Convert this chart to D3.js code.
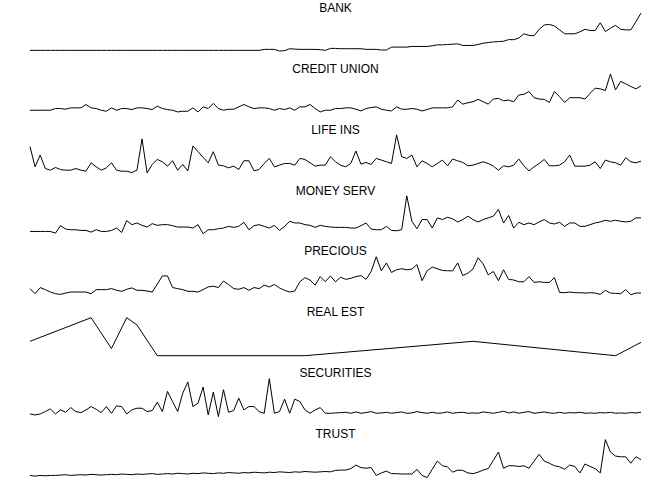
<!DOCTYPE html>
<html><head><meta charset="utf-8">
<script src="https://cdn.jsdelivr.net/npm/d3@7"></script>
<style>body{margin:0;background:#fff}svg{display:block}</style>
</head><body><svg id="c" width="672" height="480"></svg>
<script>
// panel titles
const categories = ["BANK","CREDIT UNION","LIFE INS","MONEY SERV","PRECIOUS","REAL EST","SECURITIES","TRUST"];
// month index 0..120
const months = d3.range(121);

const bank = [27,27,27,27,27,27,27,27,27,27, 27,27,27,27,27,27,27,27,27,27,
 27,27,27,27,27,27,27,27,27,27, 27,27,27,27,27,27,27,27,27,27, 27,27,27,27,27,27,
 30,30,30,25,26,32,31,30,30,30, 30,29,27,33,33,32,32,32,32,32,
 30,30,30,28,28,37,37,37,37,39, 39,39,39,41,44,44,45,46,47,42,
 42,42,45,49,51,53,54,55,60,60, 65,78,73,72,92,105,107,102,90,78,
 78,78,84,92,88,88,112,85,95,104, 92,90,90,115,142];

const creditUnion = [30,30,30,30,30,35,35,33,37,37, 37,47,37,35,30,27,37,30,35,35,
 32,37,37,35,32,42,35,32,30,25, 27,27,37,25,40,35,50,35,30,33,
 33,40,47,40,35,37,37,35,30,35, 32,37,30,40,40,47,35,25,30,30,
 35,35,37,37,33,28,35,38,40,33, 30,28,40,33,33,35,33,28,32,37,
 37,37,37,40,60,48,52,55,62,55, 48,63,65,58,60,55,75,77,85,67,
 63,62,53,85,70,53,67,67,67,63, 80,95,93,88,137,90,115,108,100,93, 102];

const lifeIns = [100,40,75,35,30,38,32,30,30,35, 30,27,52,40,30,37,52,30,27,27,
 23,30,123,22,47,62,55,42,58,30, 47,28,102,85,68,52,85,45,43,37,
 42,32,58,58,28,32,50,65,40,45, 50,50,45,65,62,52,42,45,45,70,
 55,45,40,50,87,48,53,47,65,60, 55,50,135,70,65,75,40,58,50,40,
 50,60,43,63,58,53,43,45,50,55, 50,42,30,43,40,45,63,43,28,40,
 50,62,43,43,45,55,75,42,42,42, 45,55,35,60,55,52,45,67,55,52, 57];

const moneyServ = [25,25,25,25,25,20,42,32,30,30, 28,28,23,30,25,25,28,35,22,57,
 45,50,43,38,48,43,45,45,42,38, 38,38,35,45,18,30,30,33,35,40,
 37,40,52,30,42,45,40,35,43,28, 40,55,50,50,45,43,37,43,40,38,
 37,37,37,35,35,42,50,32,30,30, 40,28,27,30,130,55,33,60,60,35,
 65,60,67,62,53,60,70,60,53,60, 65,70,90,50,72,35,52,45,50,45,
 53,60,50,47,52,40,50,50,40,40, 45,50,53,58,55,58,55,53,55,65, 65];

const precious = [35,20,38,32,25,20,18,22,25,25, 25,25,20,32,32,32,35,30,27,33,
 37,30,30,28,25,48,72,72,38,35, 32,27,27,25,32,40,42,38,57,47,
 35,33,38,30,38,35,45,40,47,37, 30,25,28,55,67,60,45,70,55,72,
 55,68,62,65,70,73,62,85,128,87, 110,82,90,93,90,92,105,58,87,98,
 93,88,87,87,110,73,80,92,125,107, 75,85,58,90,62,60,55,55,70,53,
 55,53,53,67,24,23,25,23,23,22, 23,22,18,30,22,21,20,32,17,22, 22];

// real estate is observed only in a few months
const realEstMonths = [0,12,16,19,21,25,54,87,115,120];
const realEst = [24,47,17,47,40,10,10,24,10,23];

const securities = [28,25,28,35,43,28,40,33,47,35, 32,40,50,42,32,50,30,52,50,28,
 40,45,45,35,38,63,35,95,65,35, 90,123,50,60,108,25,93,20,100,33,
 38,75,40,50,50,35,30,133,30,35, 72,30,72,65,40,30,40,47,30,30,
 31,32,33,30,34,30,32,35,30,31, 33,30,32,34,30,31,35,32,30,33,
 30,31,34,30,32,33,30,31,30,34, 32,30,33,36,31,34,30,33,35,30,
 32,34,31,30,33,30,32,31,33,30, 31,30,32,31,33,30,31,30,32,31, 33];

const trust = [18,16,18,17,18,18,19,20,18,19, 20,19,21,20,19,20,21,20,22,21,
 20,22,21,22,23,21,22,23,22,24, 23,22,24,23,25,24,23,25,24,26, 25,24,26,25,27,26,25,27,26,28,
 27,26,28,27,29,28,27,28,29,28, 32,33,33,37,47,40,38,40,18,25, 30,23,23,22,22,22,35,18,12,35,
 58,45,42,27,33,32,25,23,27,33, 37,60,83,38,45,45,43,45,38,58,
 77,58,52,45,42,35,47,43,25,50, 43,37,25,118,83,72,70,70,52,70, 62];

const seriesList = [
  {name: categories[0], idx: months, vals: bank},
  {name: categories[1], idx: months, vals: creditUnion},
  {name: categories[2], idx: months, vals: lifeIns},
  {name: categories[3], idx: months, vals: moneyServ},
  {name: categories[4], idx: months, vals: precious},
  {name: categories[5], idx: realEstMonths, vals: realEst},
  {name: categories[6], idx: months, vals: securities},
  {name: categories[7], idx: months, vals: trust}
];

const svg = d3.select("#c");
const panelH = 60.94;
const x = d3.scaleLinear().domain([0, 120]).range([30, 641]);

seriesList.forEach((s, k) => {
  const top = k * panelH;
  const pts = s.idx.map((m, j) => ({m, v: s.vals[j]}));
  const y = d3.scaleLinear().domain(d3.extent(s.vals)).range([top + 51, top + 13]);
  const g = svg.append("g");
  g.append("text")
    .attr("x", 335.5).attr("y", top + 11.7)
    .attr("text-anchor", "middle")
    .attr("font-family", "Liberation Sans, Arial, sans-serif")
    .attr("font-size", 12)
    .attr("fill", "#000")
    .text(s.name);
  g.append("path")
    .datum(pts)
    .attr("fill", "none")
    .attr("stroke", "#000")
    .attr("stroke-width", 1)
    .attr("d", d3.line().x(d => x(d.m)).y(d => y(d.v)));
});
</script>
</body></html>
